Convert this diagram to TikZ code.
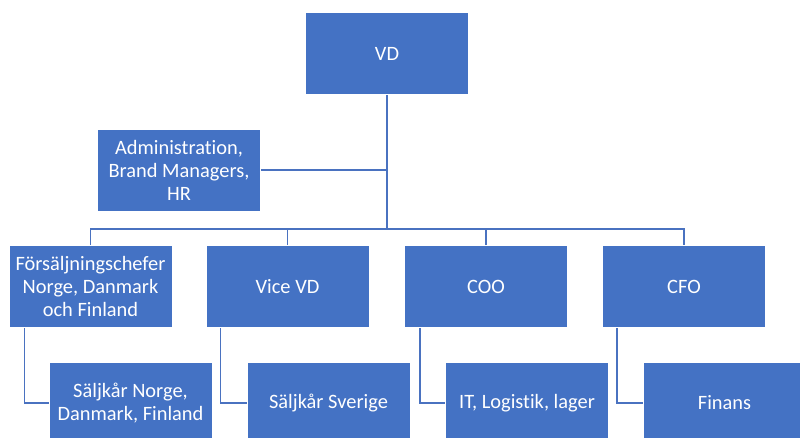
\documentclass[tikz,border=0pt]{standalone}
\usepackage{fontspec}
\setmainfont[Ligatures={NoCommon,NoRare}]{Carlito}
\definecolor{boxblue}{HTML}{4472C4}
\definecolor{lineblue}{HTML}{4A72C0}
\begin{document}
\begin{tikzpicture}[x=1pt,y=-1pt,
  orgbox/.style={rectangle, fill=boxblue, draw=white, line width=1pt,
    minimum width=163pt, minimum height=82pt, inner sep=2pt,
    text=white, align=center,
    font=\fontsize{20.4}{23}\selectfont},
  link/.style={draw=lineblue, line width=1.1pt}]
\useasboundingbox (0,0) rectangle (800,437);
\clip (0,0) rectangle (800,437);
\node[orgbox] (vd) at (387,53.5) {VD};
\node[orgbox] (adm) at (179,170) {Administration,\\Brand Managers,\\HR};
\node[orgbox] (c1) at (90.5,286.5) {Försäljningschefer\\Norge, Danmark\\och Finland};
\node[orgbox] (c2) at (287.5,286.5) {Vice VD};
\node[orgbox] (c3) at (486,286.5) {COO};
\node[orgbox] (c4) at (684,286.5) {CFO};
\node[orgbox] (d1) at (130.5,403) {Säljkår Norge,\\Danmark, Finland};
\node[orgbox] (d2) at (328.5,403) {Säljkår Sverige};
\node[orgbox] (d3) at (527,403) {IT, Logistik, lager};
\node[orgbox] (d4) at (724.5,403) {Finans};
\coordinate (bus) at (387,229);
\draw[link] (vd.south) -- (bus);
\draw[link] (adm.east) -- (adm.east -| vd.south);
\draw[link] (c1.north) |- (bus) -| (c4.north);
\draw[link] (c2.north) -- (c2.north |- bus);
\draw[link] (c3.north) -- (c3.north |- bus);
\draw[link] ([xshift=16pt]c1.south west) |- (d1.west);
\draw[link] ([xshift=15pt]c2.south west) |- (d2.west);
\draw[link] ([xshift=16pt]c3.south west) |- (d3.west);
\draw[link] ([xshift=15pt]c4.south west) |- (d4.west);
\end{tikzpicture}
\end{document}
